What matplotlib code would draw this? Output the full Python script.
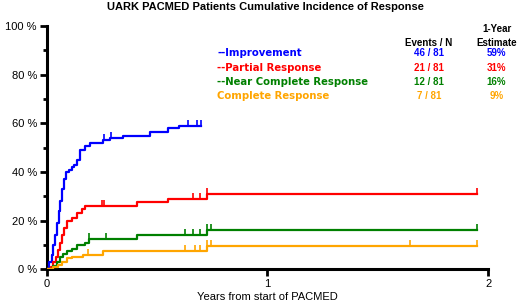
import numpy as np
import matplotlib
matplotlib.use("Agg")
import matplotlib.pyplot as plt

# data: event times in years, cumulative incidence in %
imp_t = [0, 0.012, 0.022, 0.03, 0.038, 0.046, 0.054, 0.062, 0.07, 0.078, 0.086, 0.1,
         0.113, 0.125, 0.136, 0.151, 0.173, 0.196, 0.256, 0.286, 0.347, 0.467, 0.55, 0.6]
imp_y = [0, 3, 6, 10, 14, 19, 24, 28, 33, 37, 40, 41,
         42, 43, 45, 49, 50.5, 52, 53, 54, 55, 56.5, 58, 59]
imp_cens = [0.26, 0.29, 0.64, 0.68, 0.70]

red_t = [0, 0.02, 0.03, 0.04, 0.05, 0.06, 0.07, 0.08, 0.09, 0.113, 0.136, 0.16, 0.173, 0.407, 0.55, 0.724]
red_y = [0, 1, 3, 5, 8, 11, 14, 17, 20, 21, 23, 25, 26, 27.5, 29, 31]
red_cens = [0.25, 0.26, 0.665, 0.695, 0.724, 1.95]

green_t = [0, 0.03, 0.045, 0.06, 0.075, 0.09, 0.113, 0.136, 0.173, 0.19, 0.407, 0.724]
green_y = [0, 1.5, 3, 5, 6.5, 7.5, 8.5, 10, 11, 12.5, 14, 16]
green_cens = [0.19, 0.27, 0.626, 0.665, 0.695, 0.724, 0.745, 1.95]

orange_t = [0, 0.03, 0.05, 0.07, 0.09, 0.113, 0.165, 0.256, 0.724]
orange_y = [0, 1, 2, 3, 4.5, 5, 6, 7.5, 9.5]
orange_cens = [0.185, 0.626, 0.67, 0.695, 0.724, 0.745, 1.645, 1.95]

labels = ["--Improvement", "--Partial Response", "--Near Complete Response", "Complete Response"]
events = ["46 / 81", "21 / 81", "12 / 81", "7 / 81"]
estimates = ["59%", "31%", "16%", "9%"]
colors = ["#0000ff", "#ff0000", "#008000", "#ffa500"]

series = [(imp_t, imp_y, imp_cens), (red_t, red_y, red_cens),
          (green_t, green_y, green_cens), (orange_t, orange_y, orange_cens)]

plt.rcParams['font.family'] = ['Liberation Sans', 'DejaVu Sans']

fig = plt.figure(figsize=(5.2, 3.02), dpi=100)
ax = fig.add_axes([0.0898, 0.108, 0.849, 0.806])

for (t, y, cens), c in zip(series, colors):
    end = max(cens)
    tt = list(t) + [end]
    yy = list(y) + [y[-1]]
    ax.plot(tt, yy, drawstyle="steps-post", color=c, lw=1.6, zorder=3)
    # censor marks sit on the step value at that time
    idx = np.searchsorted(t, cens, side="right") - 1
    cy = np.array(y)[idx]
    ax.plot(cens, cy, ls="none", marker=2, ms=4, mew=1.2, color=c, zorder=3)

ax.set_xlim(0, 2)
ax.set_ylim(0, 100)
ax.set_xticks([0, 1, 2])
ax.set_yticks(range(0, 101, 20))
ax.set_yticks(range(0, 101, 10), minor=True)
ax.set_yticklabels(["{} %".format(v) for v in range(0, 101, 20)])
ax.spines["top"].set_visible(False)
ax.spines["right"].set_visible(False)
ax.spines["left"].set_linewidth(2.2)
ax.spines["bottom"].set_linewidth(2.2)
ax.tick_params(axis="both", which="major", length=5, width=2, labelsize=8, pad=2)
ax.tick_params(axis="y", which="minor", length=3, width=2)
ax.set_xlabel("Years from start of PACMED", fontsize=8, labelpad=2)

fig.text(0.51, 0.995, "UARK PACMED Patients Cumulative Incidence of Response",
         ha="center", va="top", fontsize=8, fontweight="bold")

# legend table
fig.text(0.825, 1 - 43 / 302, "Events / N", ha="center", va="center", fontsize=7, fontweight="bold")
fig.text(0.955, 1 - 29 / 302, "1-Year", ha="center", va="center", fontsize=7, fontweight="bold")
fig.text(0.955, 1 - 43 / 302, "Estimate", ha="center", va="center", fontsize=7, fontweight="bold")
rows_y = [53, 68, 82, 96]
for lab, ev, est, c, ry in zip(labels, events, estimates, colors, rows_y):
    yf = 1 - ry / 302
    fig.text(217 / 520, yf, lab, ha="left", va="center", fontsize=7.3, color=c,
             fontweight="bold", family="DejaVu Sans")
    fig.text(0.825, yf, ev, ha="center", va="center", fontsize=7, color=c, fontweight="bold")
    fig.text(0.955, yf, est, ha="center", va="center", fontsize=7, color=c, fontweight="bold")

fig.savefig("out.png", dpi=100)
